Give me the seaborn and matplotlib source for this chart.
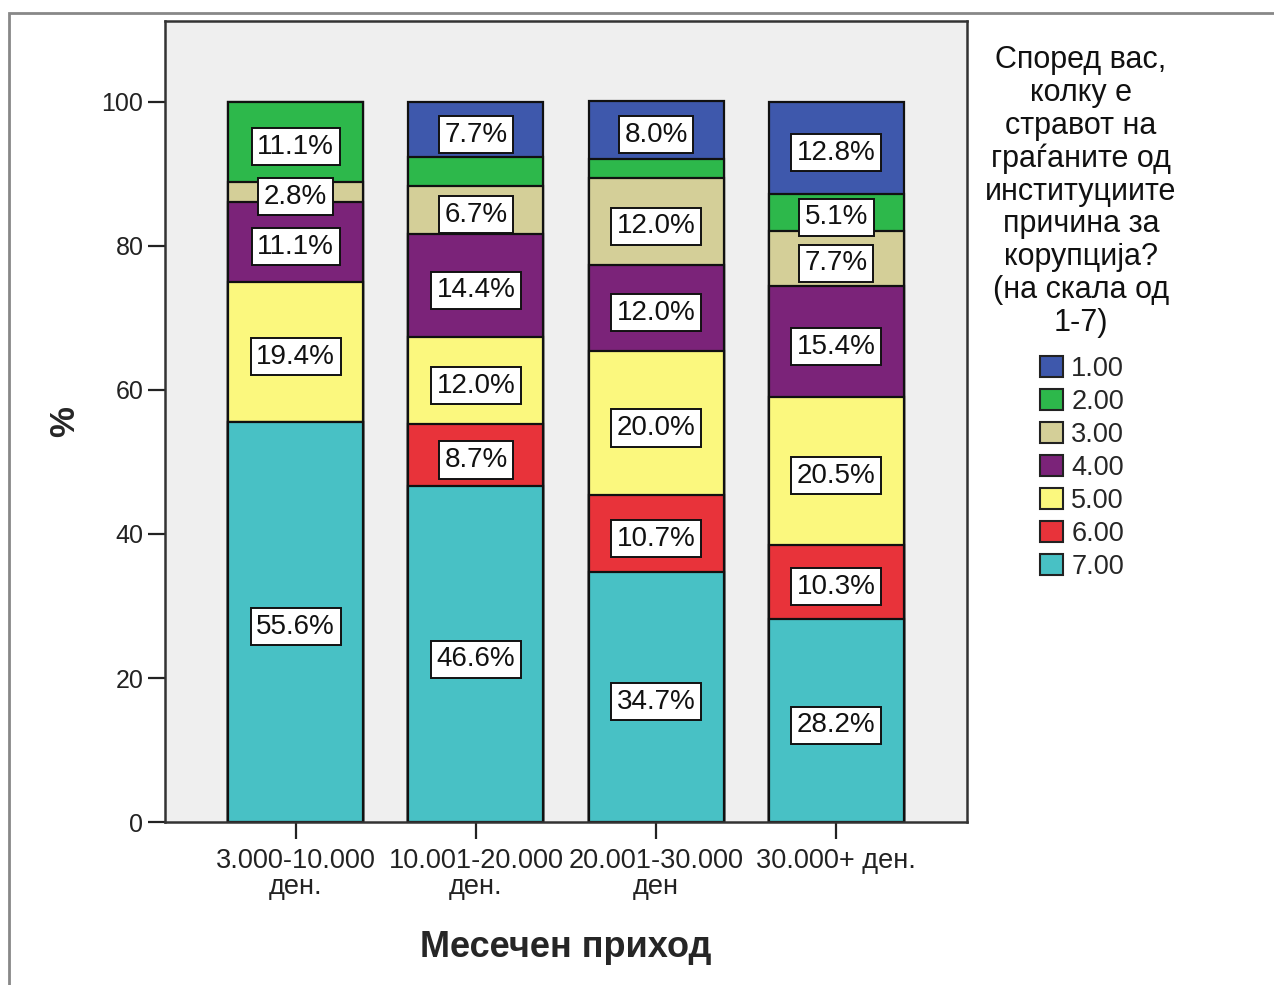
import matplotlib
matplotlib.use('Agg')
import matplotlib.pyplot as plt
from matplotlib.patches import Patch, Rectangle
import numpy as np
import seaborn as sns

# data (percent within each income group)
income = ['3.000-10.000\nден.', '10.001-20.000\nден.', '20.001-30.000\nден', '30.000+ ден.']
levels = ['1.00', '2.00', '3.00', '4.00', '5.00', '6.00', '7.00']
pct_1 = [0.0, 7.7, 8.0, 12.8]
pct_2 = [11.1, 3.9, 2.7, 5.1]
pct_3 = [2.8, 6.7, 12.0, 7.7]
pct_4 = [11.1, 14.4, 12.0, 15.4]
pct_5 = [19.4, 12.0, 20.0, 20.5]
pct_6 = [0.0, 8.7, 10.7, 10.3]
pct_7 = [55.6, 46.6, 34.7, 28.2]
# segments SPSS left without a label
hidden = [(1, '2.00'), (2, '2.00')]

colors = ['#3e58ac', '#2db84b', '#d4cf98', '#7b2379', '#fbf87e', '#e8333a', '#48c1c5']
legend_title = 'Според вас,\nколку е\nстравот на\nграѓаните од\nинституциите\nпричина за\nкорупција?\n(на скала од\n1-7)'

sns.set_style('white')
plt.rcParams['font.family'] = ['Liberation Sans', 'DejaVu Sans']

fig = plt.figure(figsize=(12.74, 9.85), dpi=100)
ax = fig.add_axes([165 / 1274, 1 - 822 / 985, (967 - 165) / 1274, (822 - 21) / 985])
ax.set_facecolor('#efefef')

values = np.array([pct_1, pct_2, pct_3, pct_4, pct_5, pct_6, pct_7])
# cumulative heights counted from the bottom (level 7 sits at the bottom)
tops = np.cumsum(values[::-1], axis=0)[::-1]
bottoms = tops - values

for i, lev in enumerate(levels):
    sns.barplot(x=income, y=tops[i], color=colors[i], saturation=1, width=0.75,
                edgecolor='#111111', linewidth=1.6, ax=ax)

for i, lev in enumerate(levels):
    for j in range(len(income)):
        v = values[i, j]
        if v <= 0 or (j, lev) in hidden:
            continue
        ax.annotate(f'{v:.1f}%', (j, bottoms[i, j] + v / 2), xytext=(0, -3.5),
                    textcoords='offset points', ha='center', va='center',
                    fontsize=20, color='#111111', zorder=5,
                    bbox=dict(boxstyle='square,pad=0.2', facecolor='white',
                              edgecolor='#111111', linewidth=1.4))

ax.set_ylim(0, 111.25)
ax.set_xlim(-0.725, 3.725)
ax.set_yticks([0, 20, 40, 60, 80, 100])
ax.tick_params(axis='both', direction='out', length=12, width=1.6, colors='#222222',
               left=True, bottom=True)
ax.tick_params(axis='y', labelsize=18)
ax.tick_params(axis='x', labelsize=19.5, pad=7)
for t in ax.get_xticklabels():
    t.set_linespacing(1.0)
for s in ax.spines.values():
    s.set_visible(True)
    s.set_color('#333333')
    s.set_linewidth(1.8)

ax.set_xlabel('Месечен приход', fontsize=26, fontweight='bold', labelpad=21)
ax.set_ylabel('%', fontsize=25, fontweight='bold', labelpad=15)

fig.text(1081 / 1274, 1 - 45 / 985, legend_title, ha='center', va='top',
         multialignment='center', fontsize=22, linespacing=1.12, color='#111111')

handles = [Patch(facecolor=c, edgecolor='#222222', linewidth=1.5) for c in colors]
fig.legend(handles, levels, loc='upper left', bbox_to_anchor=(1040 / 1274, 1 - 356 / 985),
           frameon=False, fontsize=19.5, handlelength=0.85, handleheight=0.8,
           handletextpad=0.3, labelspacing=0.26, borderpad=0, borderaxespad=0)

# thin grey frame that SPSS draws around the chart
fig.add_artist(Rectangle((9 / 1274, -0.1), 1.2, 1.1 - 13 / 985, transform=fig.transFigure,
                         fill=False, edgecolor='#888888', linewidth=2))

fig.savefig('out.png', dpi=100)
